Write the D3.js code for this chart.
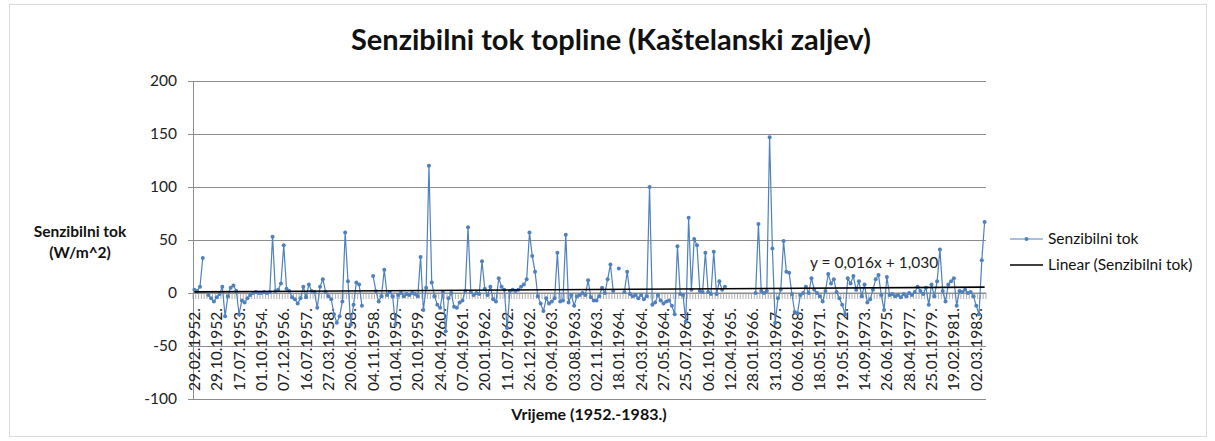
<!DOCTYPE html>
<html>
<head>
<meta charset="utf-8">
<script src="https://cdn.jsdelivr.net/npm/d3@7"></script>
<style>
  body { margin: 0; background: #fff; }
  svg { display: block; font-family: Lato, 'Open Sans', sans-serif; }
</style>
</head>
<body>
<svg id="chart" width="1215" height="441"></svg>
<script>
// sensible heat flux, one value per measurement (null = missing)
const fluxValues = [
  3, 2, 6, 33, null, -2, -5, -8, -4, -1,
  6, -22, -3, 5, 7, 2, -20, -7, -9, -5,
  -2, 0, 1, 0, 0, 1, 0, 1, 53, 2,
  3, 9, 45, 4, 2, -4, -6, -10, -5, 6,
  -4, 8, 2, 1, -14, 6, 13, 1, -3, -6,
  -20, -28, -22, -8, 57, 11, -30, -11, 10, 8,
  -12, null, null, null, 16, 2, -8, -3, 22, -2,
  1, -3, -30, -2, 0, -3, -1, -2, 0, -1,
  -3, 34, -16, 5, 120, 10, -3, -11, -14, 1,
  -36, -5, 0, -13, -14, -9, -7, 2, 62, 1,
  -2, 0, -1, 30, 4, -2, 6, -6, -8, 14,
  6, 3, -33, 2, 3, 2, 3, 6, 8, 13,
  57, 35, 20, -3, -10, -17, -5, -10, -8, -5,
  38, -8, -7, 55, -9, -2, -12, -3, -2, 0,
  -2, 12, -4, -7, -7, -3, 5, 0, 13, 27,
  2, null, 23, null, 1, 20, -1, -3, -2, -5,
  -2, -6, -3, 100, -11, -9, -2, -7, -10, -8,
  -7, -12, -20, 44, -1, -2, -27, 71, 3, 51,
  45, 2, 1, 38, 1, -1, 39, -1, 11, 3,
  6, null, null, null, null, null, null, null, null, null,
  null, 0, 65, 2, 0, 2, 147, 42, -28, -5,
  3, 49, 20, 19, -1, -18, -19, -2, 0, 6,
  0, 14, 3, 0, -3, -8, 2, 18, 9, 13,
  1, -5, -11, -20, 14, 9, 16, 3, 11, -3,
  8, -9, -6, 3, 13, 17, -2, -16, 15, -2,
  -1, -3, -2, -4, -1, -3, 0, -2, 1, 6,
  2, -1, 5, -11, 8, -3, 11, 41, 2, -8,
  8, 11, 14, -12, 2, 1, 3, 0, 1, -3,
  -12, -20, 31, 67
];

// dates shown on the category axis (every 8th measurement)
const dateLabels = [
  '29.02.1952.', '29.10.1952.', '17.07.1953.', '01.10.1954.', '07.12.1956.', '16.07.1957.',
  '27.03.1958.', '20.06.1958.', '04.11.1958.', '01.04.1959.', '20.10.1959.', '24.04.1960.',
  '07.04.1961.', '20.01.1962.', '11.07.1962.', '26.12.1962.', '09.04.1963.', '03.08.1963.',
  '02.11.1963.', '18.01.1964.', '24.03.1964.', '27.05.1964.', '25.07.1964.', '06.10.1964.',
  '12.04.1965.', '28.01.1966.', '31.03.1967.', '06.06.1968.', '18.05.1971.', '19.05.1972.',
  '14.09.1973.', '26.06.1975.', '28.04.1977.', '25.01.1979.', '19.02.1981.', '02.03.1983.'
];
const labelStep = 8;

const yTicks = [-100, -50, 0, 50, 100, 150, 200];

// excel linear trendline: y = slope * x + intercept (x = 1..n)
const trendCoef = [0.016, 1.030];
const trendText = 'y = 0,016x + 1,030';

const svg = d3.select('#chart');
const blue = '#4f81bd';

svg.append('rect').attr('x', 9.5).attr('y', 4.5).attr('width', 1197).attr('height', 432)
  .attr('fill', '#fff').attr('stroke', '#d9d9d9');

const margin = { left: 193, right: 986, top: 81, bottom: 399 };

const idx = d3.range(fluxValues.length);
const x = d3.scaleBand().domain(idx).range([margin.left, margin.right]).padding(0);
const y = d3.scaleLinear().domain([-100, 200]).range([margin.bottom, margin.top]);
const cx = i => x(i) + x.bandwidth() / 2;

// gridlines
svg.append('g').attr('transform', `translate(${margin.left},0)`)
  .call(d3.axisLeft(y).tickValues(yTicks).tickSize(-(margin.right - margin.left)).tickFormat(''))
  .call(g => g.select('.domain').remove())
  .selectAll('line').attr('stroke', '#8c8c8c').attr('stroke-width', 1);

// y axis
svg.append('g').attr('transform', `translate(${margin.left},0)`)
  .call(d3.axisLeft(y).tickValues(yTicks).tickSize(5).tickPadding(11).tickFormat(d => String(d)))
  .call(g => g.select('.domain').attr('stroke', '#8c8c8c'))
  .call(g => g.selectAll('line').attr('stroke', '#8c8c8c'))
  .selectAll('text').style('font-size', '15.5px').style('font-family', 'Lato').attr('fill', '#222');

// category ticks hanging below zero line
svg.append('g').selectAll('line').data(d3.range(fluxValues.length + 1)).join('line')
  .attr('x1', i => margin.left + i * x.bandwidth()).attr('x2', i => margin.left + i * x.bandwidth())
  .attr('y1', y(0)).attr('y2', y(0) + 6)
  .attr('stroke', '#9a9a9a').attr('stroke-width', 0.8);

// x labels
svg.append('g').selectAll('text').data(dateLabels).join('text')
  .attr('transform', (d, k) => `translate(${cx(k * labelStep) + 5.5},${y(0) + 15}) rotate(-90)`)
  .attr('text-anchor', 'end')
  .style('font-size', '15.5px').attr('fill', '#222')
  .text(d => d);

svg.append('line').attr('x1', margin.left).attr('x2', margin.right)
  .attr('y1', y(0)).attr('y2', y(0)).attr('stroke', '#8c8c8c');

// series
const line = d3.line().defined(d => d != null).x((d, i) => cx(i)).y(d => y(d));
svg.append('path').datum(fluxValues).attr('d', line)
  .attr('fill', 'none').attr('stroke', blue).attr('stroke-width', 1.2);

svg.append('g').selectAll('circle').data(idx.filter(i => fluxValues[i] != null)).join('circle')
  .attr('cx', i => cx(i)).attr('cy', i => y(fluxValues[i])).attr('r', 2)
  .attr('fill', blue);

// trendline
const n = fluxValues.length;
svg.append('line')
  .attr('x1', cx(0)).attr('y1', y(trendCoef[0] * 1 + trendCoef[1]))
  .attr('x2', cx(n - 1)).attr('y2', y(trendCoef[0] * n + trendCoef[1]))
  .attr('stroke', '#000').attr('stroke-width', 1.6);

svg.append('text').attr('x', 810).attr('y', 268).style('font-size', '15.5px').attr('fill', '#222')
  .text(trendText);

// titles
svg.append('text').attr('x', 611).attr('y', 50).attr('text-anchor', 'middle')
  .style('font-size', '29px').style('font-weight', 'bold').attr('fill', '#111')
  .text('Senzibilni tok topline (Kaštelanski zaljev)');

const yTitle = svg.append('text').attr('text-anchor', 'middle').style('font-size', '15.5px')
  .style('font-weight', 'bold').attr('fill', '#111');
yTitle.append('tspan').attr('x', 80).attr('y', 237).text('Senzibilni tok');
yTitle.append('tspan').attr('x', 80).attr('y', 258).text('(W/m^2)');

svg.append('text').attr('x', 589).attr('y', 420).attr('text-anchor', 'middle')
  .style('font-size', '16px').style('font-weight', 'bold').attr('fill', '#111')
  .text('Vrijeme (1952.-1983.)');

// legend
const legend = svg.append('g').attr('transform', 'translate(1010,239)');
legend.append('line').attr('x1', 0).attr('x2', 33).attr('stroke', blue).attr('stroke-width', 1.2);
legend.append('circle').attr('cx', 16.5).attr('r', 2).attr('fill', blue);
legend.append('text').attr('x', 38).attr('dy', '0.35em').style('font-size', '15.5px').attr('fill', '#111')
  .text('Senzibilni tok');
legend.append('line').attr('x1', 0).attr('x2', 33).attr('y1', 26).attr('y2', 26)
  .attr('stroke', '#000').attr('stroke-width', 1.6);
legend.append('text').attr('x', 38).attr('y', 26).attr('dy', '0.35em').style('font-size', '15.5px').attr('fill', '#111')
  .text('Linear (Senzibilni tok)');
</script>
</body>
</html>
